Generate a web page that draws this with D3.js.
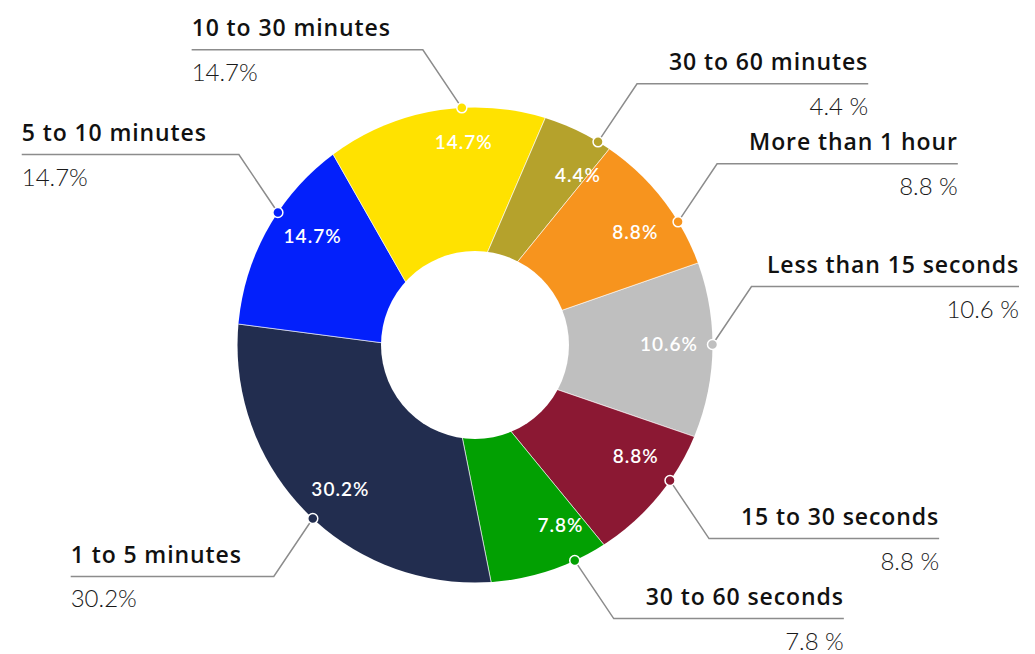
<!DOCTYPE html>
<html>
<head>
<meta charset="utf-8">
<script src="https://cdn.jsdelivr.net/npm/d3@7"></script>
<style>
  body { margin: 0; background: #fff; }
  text { font-family: Lato, "Open Sans", sans-serif; }
  text.name { font-family: "Open Sans", Lato, sans-serif; }
</style>
</head>
<body>
<div id="chart-area"></div>
<script>
// share of time spent, clockwise from the right
var categories = ["Less than 15 seconds", "15 to 30 seconds", "30 to 60 seconds", "1 to 5 minutes",
                  "5 to 10 minutes", "10 to 30 minutes", "30 to 60 minutes", "More than 1 hour"];
var values = [10.6, 8.8, 7.8, 30.2, 14.7, 14.7, 4.4, 8.8];
var colors = ["#bfbfbf", "#8b1833", "#02a002", "#222d4f", "#0320fb", "#ffe200", "#b5a22c", "#f7941e"];

var width = 1035, height = 654;
var cx = 475, cy = 345;           // ring centre
var R = 237.5, r0 = 94;
var pcx = cx - 30, pcy = cy + 6;  // slice edges radiate from a point a bit off-centre
var start = 70.8 * Math.PI / 180;
var legX = 39, legY = 58, minGap = 80;
var edge = 16;

var svg = d3.select("#chart-area").append("svg")
    .attr("width", width)
    .attr("height", height);

var pie = d3.pie().sort(null).value(d => d)
    .startAngle(start).endAngle(start + 2 * Math.PI);
var arcs = pie(values);

svg.append("clipPath").attr("id", "ring")
   .append("circle").attr("cx", cx).attr("cy", cy).attr("r", R);

var wedge = d3.arc().innerRadius(0).outerRadius(290);
svg.append("g").attr("clip-path", "url(#ring)")
   .append("g").attr("transform", "translate(" + pcx + "," + pcy + ")")
   .selectAll("path").data(arcs).enter().append("path")
   .attr("d", wedge)
   .attr("fill", (d, i) => colors[i])
   .attr("stroke", "#fff")
   .attr("stroke-width", 0.6);

svg.append("circle").attr("cx", cx).attr("cy", cy).attr("r", r0).attr("fill", "#fff");

var g = svg.append("g").attr("transform", "translate(" + cx + "," + cy + ")");

// inner percentage labels
g.selectAll(".inner").data(arcs).enter().append("text")
  .attr("class", "inner")
  .attr("x", d => {
      var a = (d.startAngle + d.endAngle) / 2, rr = 204 - 10 * Math.abs(Math.sin(a));
      return rr * Math.sin(a);
  })
  .attr("y", d => {
      var a = (d.startAngle + d.endAngle) / 2, rr = 204 - 10 * Math.abs(Math.sin(a));
      return -rr * Math.cos(a);
  })
  .attr("dy", "0.35em")
  .attr("text-anchor", "middle")
  .attr("fill", "#fff")
  .attr("font-size", 19)
  .attr("font-weight", 600)
  .attr("letter-spacing", 1)
  .text(d => d3.format(".1f")(d.value) + "%");

// callout layout: elbow positions, pushed apart per side
var calls = arcs.map((d, i) => {
    var a = (d.startAngle + d.endAngle) / 2;
    var sx = Math.sin(a) > 0 ? 1 : -1;
    var sy = Math.cos(a) > 0 ? -1 : 1;
    return {i: i, d: d, sx: sx, sy: sy, ey: -R * Math.cos(a) + sy * legY};
});
[1, -1].forEach(side => {
    var list = calls.filter(c => c.sx === side).sort((a, b) => a.ey - b.ey);
    for (var k = 1; k < list.length; k++) {
        if (list[k].ey - list[k - 1].ey < minGap) list[k].ey = list[k - 1].ey + minGap;
    }
});
calls.forEach(c => {
    var py = c.ey - c.sy * legY;
    var px = c.sx * Math.sqrt(Math.max(0, R * R - py * py));
    c.p = [px, py];
    c.ex = px + c.sx * legX;
});

var lab = g.selectAll(".lab").data(calls).enter().append("g").attr("class", "lab");

lab.each(function(c) {
    var el = d3.select(this);
    var anchor = c.sx > 0 ? "end" : "start";

    var name = el.append("text")
        .attr("class", "name")
        .attr("y", c.ey - 13.5)
        .attr("text-anchor", anchor)
        .attr("fill", "#111")
        .attr("font-size", 23)
        .attr("font-weight", 600)
        .attr("letter-spacing", 0.9)
        .text(categories[c.i]);
    var w = name.node().getComputedTextLength() + 32;
    var tx = c.ex + c.sx * w;
    // keep labels inside the page
    tx = Math.max(-cx + edge, Math.min(width - cx - edge, tx));
    name.attr("x", tx);

    el.append("text")
        .attr("x", tx)
        .attr("y", c.ey + 31)
        .attr("text-anchor", anchor)
        .attr("fill", "#1a1a1a")
        .attr("font-size", 24)
        .attr("font-weight", 300)
        .text(d3.format(".1f")(c.d.value) + (c.sx > 0 ? " %" : "%"));

    el.append("polyline")
        .attr("points", [c.p, [c.ex, c.ey], [tx, c.ey]].map(q => q.join(",")).join(" "))
        .attr("fill", "none")
        .attr("stroke", "#8c8c8c")
        .attr("stroke-width", 1.5);

    el.append("circle")
        .attr("cx", c.p[0]).attr("cy", c.p[1]).attr("r", 5)
        .attr("fill", colors[c.i])
        .attr("stroke", "#fff")
        .attr("stroke-width", 1.5);
});
</script>
</body>
</html>
